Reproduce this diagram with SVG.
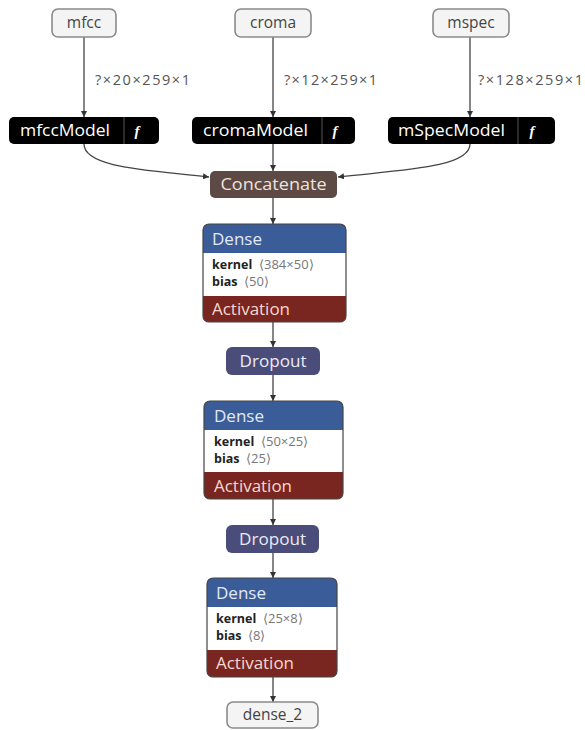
<svg xmlns="http://www.w3.org/2000/svg" width="585" height="730" viewBox="0 0 585 730">
<defs>
<marker id="ah" viewBox="0 0 10 10" refX="10" refY="5" markerWidth="6" markerHeight="6" orient="auto" markerUnits="userSpaceOnUse">
<path d="M0,0 L10,5 L0,10 Z" fill="#333"/>
</marker>
<style>
.edge{fill:none;stroke:#444;stroke-width:1.3;marker-end:url(#ah)}
.elab{font-family:"Open Sans","Liberation Sans",sans-serif;font-size:14.5px;fill:#555}
.inp{fill:#f4f4f4;stroke:#8a8a8a;stroke-width:1.6}
.inpt{font-family:"Open Sans","Liberation Sans",sans-serif;font-size:15.5px;fill:#444;text-anchor:middle}
.mdl{fill:#000}
.sep{stroke:#555;stroke-width:1}
.mt{font-family:"Open Sans","Liberation Sans",sans-serif;font-size:16px;fill:#fff}
.fn{font-family:"Liberation Serif",serif;font-style:italic;font-weight:bold;font-size:15px;fill:#fff;text-anchor:middle}
.hd{font-family:"Open Sans","Liberation Sans",sans-serif;font-size:16px}
.blue{fill:#3a5d99}
.red{fill:#7a2620}
.box{fill:#fff}
.outl{fill:none;stroke:#444;stroke-width:1.2}
.ab{font-family:"Open Sans","Liberation Sans",sans-serif;font-size:12.5px;font-weight:bold;fill:#222}
.ag{font-family:"Open Sans","Liberation Sans",sans-serif;font-size:13px;fill:#777}
</style>
</defs>
<rect width="585" height="730" fill="#fff"/>

<g id="connectors">
<line class="edge" x1="84" y1="37" x2="84" y2="117"/>
<line class="edge" x1="273" y1="37" x2="273" y2="117"/>
<line class="edge" x1="470" y1="37" x2="470" y2="117"/>
<path class="edge" d="M84,144 C84,168 150,170 209,177"/>
<line class="edge" x1="273" y1="144" x2="273" y2="171"/>
<path class="edge" d="M470,144 C470,168 400,170 338,177"/>
<line class="edge" x1="273" y1="198" x2="273" y2="224"/>
<line class="edge" x1="273" y1="322" x2="273" y2="347"/>
<line class="edge" x1="273" y1="375" x2="273" y2="401"/>
<line class="edge" x1="273" y1="499" x2="273" y2="525"/>
<line class="edge" x1="273" y1="553" x2="273" y2="578"/>
<line class="edge" x1="273" y1="677" x2="273" y2="702"/>
<text class="elab" x="95" y="85" textLength="95" lengthAdjust="spacing">?×20×259×1</text>
<text class="elab" x="284" y="85" textLength="93" lengthAdjust="spacing">?×12×259×1</text>
<text class="elab" x="478" y="85" textLength="105" lengthAdjust="spacing">?×128×259×1</text>
</g>

<g id="mfcc">
<rect class="inp" x="52" y="9" width="64" height="28" rx="6"/>
<text class="inpt" x="84" y="28">mfcc</text>
</g>
<g id="croma">
<rect class="inp" x="235" y="9" width="76" height="28" rx="6"/>
<text class="inpt" x="273" y="28">croma</text>
</g>
<g id="mspec">
<rect class="inp" x="433" y="9" width="76" height="28" rx="6"/>
<text class="inpt" x="471" y="28">mspec</text>
</g>

<g id="mfccModel">
<rect class="mdl" x="9" y="117" width="150" height="27" rx="5"/>
<line class="sep" x1="124" y1="117" x2="124" y2="144"/>
<text class="mt" x="20" y="136" textLength="90" lengthAdjust="spacingAndGlyphs">mfccModel</text>
<text class="fn" x="137" y="136">f</text>
</g>
<g id="cromaModel">
<rect class="mdl" x="192" y="117" width="163" height="27" rx="5"/>
<line class="sep" x1="322" y1="117" x2="322" y2="144"/>
<text class="mt" x="203" y="136" textLength="105" lengthAdjust="spacingAndGlyphs">cromaModel</text>
<text class="fn" x="335" y="136">f</text>
</g>
<g id="mSpecModel">
<rect class="mdl" x="388" y="117" width="167" height="27" rx="5"/>
<line class="sep" x1="518" y1="117" x2="518" y2="144"/>
<text class="mt" x="398" y="136" textLength="107" lengthAdjust="spacingAndGlyphs">mSpecModel</text>
<text class="fn" x="532" y="136">f</text>
</g>

<g id="concatenate">
<rect x="210" y="171" width="127" height="27" rx="5" fill="#5d4a45"/>
<text class="hd" x="273.5" y="190" text-anchor="middle" fill="#f2e2de" textLength="106" lengthAdjust="spacingAndGlyphs">Concatenate</text>
</g>

<g id="dense">
<rect class="box" x="203" y="224" width="143" height="98" rx="6"/>
<path class="blue" d="M203,253 V230 a6,6 0 0 1 6,-6 H340 a6,6 0 0 1 6,6 V253 Z"/>
<path class="red" d="M203,296 H346 V316 a6,6 0 0 1 -6,6 H209 a6,6 0 0 1 -6,-6 Z"/>
<rect class="outl" x="203" y="224" width="143" height="98" rx="6"/>
<text class="hd" x="212" y="244.5" fill="#e3e9f3" textLength="50" lengthAdjust="spacingAndGlyphs">Dense</text>
<text class="ab" x="212" y="269">kernel</text>
<text class="ag" x="259" y="269">⟨384×50⟩</text>
<text class="ab" x="212" y="286">bias</text>
<text class="ag" x="244" y="286">⟨50⟩</text>
<text class="hd" x="212" y="315" fill="#f5d8d2" textLength="78" lengthAdjust="spacingAndGlyphs">Activation</text>
</g>

<g id="dropout">
<rect x="226" y="347" width="94" height="28" rx="6" fill="#4a4c7a"/>
<text class="hd" x="273" y="366.5" text-anchor="middle" fill="#eceaf5" textLength="67" lengthAdjust="spacingAndGlyphs">Dropout</text>
</g>

<g id="dense_1">
<rect class="box" x="204" y="401" width="139" height="98" rx="6"/>
<path class="blue" d="M204,430 V407 a6,6 0 0 1 6,-6 H337 a6,6 0 0 1 6,6 V430 Z"/>
<path class="red" d="M204,472 H343 V493 a6,6 0 0 1 -6,6 H210 a6,6 0 0 1 -6,-6 Z"/>
<rect class="outl" x="204" y="401" width="139" height="98" rx="6"/>
<text class="hd" x="214" y="421.5" fill="#e3e9f3" textLength="50" lengthAdjust="spacingAndGlyphs">Dense</text>
<text class="ab" x="214" y="446">kernel</text>
<text class="ag" x="261" y="446">⟨50×25⟩</text>
<text class="ab" x="214" y="463">bias</text>
<text class="ag" x="246" y="463">⟨25⟩</text>
<text class="hd" x="214" y="491.5" fill="#f5d8d2" textLength="78" lengthAdjust="spacingAndGlyphs">Activation</text>
</g>

<g id="dropout_1">
<rect x="226" y="525" width="93" height="28" rx="6" fill="#4a4c7a"/>
<text class="hd" x="272.5" y="544.5" text-anchor="middle" fill="#eceaf5" textLength="67" lengthAdjust="spacingAndGlyphs">Dropout</text>
</g>

<g id="dense_2_layer">
<rect class="box" x="207" y="578" width="130" height="99" rx="6"/>
<path class="blue" d="M207,607 V584 a6,6 0 0 1 6,-6 H331 a6,6 0 0 1 6,6 V607 Z"/>
<path class="red" d="M207,650 H337 V671 a6,6 0 0 1 -6,6 H213 a6,6 0 0 1 -6,-6 Z"/>
<rect class="outl" x="207" y="578" width="130" height="99" rx="6"/>
<text class="hd" x="216" y="598.5" fill="#e3e9f3" textLength="50" lengthAdjust="spacingAndGlyphs">Dense</text>
<text class="ab" x="216" y="623">kernel</text>
<text class="ag" x="263" y="623">⟨25×8⟩</text>
<text class="ab" x="216" y="640">bias</text>
<text class="ag" x="248" y="640">⟨8⟩</text>
<text class="hd" x="216" y="669" fill="#f5d8d2" textLength="78" lengthAdjust="spacingAndGlyphs">Activation</text>
</g>

<g id="dense_2">
<rect class="inp" x="227" y="702" width="91" height="26" rx="6"/>
<text class="inpt" x="272.5" y="720">dense_2</text>
</g>
</svg>
